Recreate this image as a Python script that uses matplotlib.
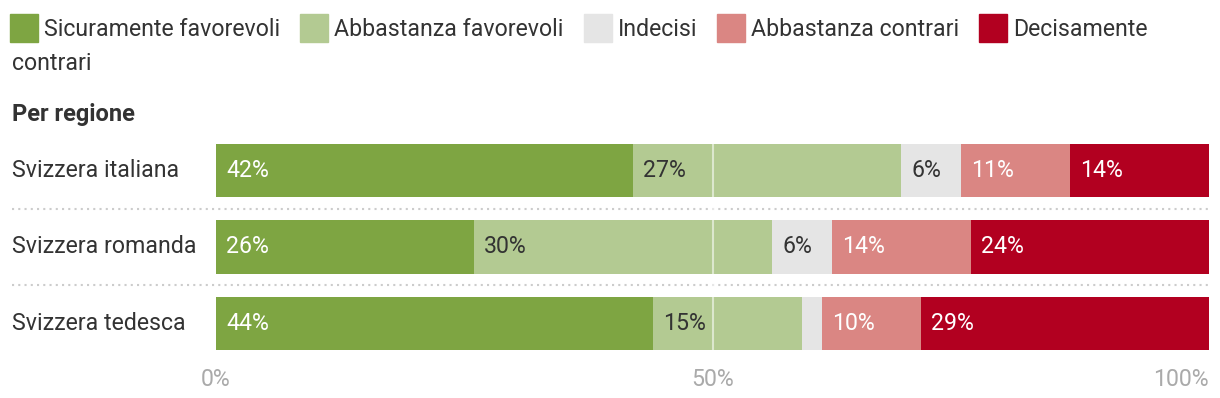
import matplotlib
matplotlib.use("Agg")
import matplotlib.pyplot as plt
from matplotlib.transforms import blended_transform_factory
from matplotlib.patches import Rectangle
import numpy as np

plt.rcParams['font.family'] = ['Roboto', 'DejaVu Sans']

regions = ["Svizzera italiana", "Svizzera romanda", "Svizzera tedesca"]
series_names = ["Sicuramente favorevoli", "Abbastanza favorevoli", "Indecisi",
                "Abbastanza contrari", "Decisamente contrari"]
sicuramente_fav = [42, 26, 44]
abbastanza_fav = [27, 30, 15]
indecisi = [6, 6, 2]
abbastanza_con = [11, 14, 10]
decisamente_con = [14, 24, 29]
tick_vals = [0, 50, 100]
tick_labels = ["0%", "50%", "100%"]

colors = ["#7ea542", "#b3ca92", "#e5e5e5", "#da8683", "#b20020"]
label_colors = ["white", "#333333", "#333333", "white", "white"]

W, H = 1220, 398
fig = plt.figure(figsize=(W / 100, H / 100), dpi=100)

def px2fig(x, y):
    return x / W, 1 - y / H

FS = 16.7
# axes geometry
ax_left, ax_right = 216, 1209
ax_top, ax_bot = 132.4, 361.4
ax = fig.add_axes([ax_left / W, 1 - ax_bot / H, (ax_right - ax_left) / W, (ax_bot - ax_top) / H])
ax.set_xlim(0, 100)
ax.set_ylim(2.5, -0.5)
for s in ax.spines.values():
    s.set_visible(False)

data = [sicuramente_fav, abbastanza_fav, indecisi, abbastanza_con, decisamente_con]
y = np.arange(len(regions))
left = np.zeros(len(regions))
for i, vals in enumerate(data):
    vals = np.array(vals, dtype=float)
    ax.barh(y, vals, left=left, height=0.70, color=colors[i], zorder=2)
    for j, v in enumerate(vals):
        if v >= 3:
            ax.annotate(f"{v:.0f}%", xy=(left[j], y[j]), xytext=(10, 0),
                        textcoords="offset pixels", ha="left", va="center",
                        fontsize=FS, color=label_colors[i], zorder=4)
    left += vals

ax.axvline(50, color="white", alpha=0.55, lw=1.5, zorder=3)

# ticks
ax.set_yticks([])
ax.set_xticks(tick_vals)
ax.set_xticklabels(tick_labels, fontsize=FS, color="#aaaaaa")
ax.tick_params(axis="x", length=0, pad=5)
tl = ax.get_xticklabels()
tl[-1].set_ha("right")

# category labels & separators
tr = blended_transform_factory(fig.transFigure, ax.transData)
for j, r in enumerate(regions):
    ax.text(12 / W, y[j], r, transform=tr, ha="left", va="center",
            fontsize=FS, color="#333333")
for sep in [0.5, 1.5]:
    ax.plot([12 / W, 1210 / W], [sep, sep], transform=tr, color="#cccccc",
            lw=1.5, ls=(0, (1, 2)), clip_on=False, zorder=1)

# subtitle
fig.text(12 / W, 1 - 115 / H, "Per regione", fontsize=FS + 0.3, fontweight="bold",
         color="#333333", ha="left", va="center")

# legend
fig.canvas.draw()
renderer = fig.canvas.get_renderer()
x = 10
ycen = 28
sq = 28
for i, name in enumerate(series_names):
    fig.patches.append(Rectangle(px2fig(x, ycen + sq / 2), sq / W, sq / H,
                                 transform=fig.transFigure, color=colors[i], figure=fig))
    if i == len(series_names) - 1:
        first, rest = name.split(" ", 1)
        t = fig.text(*px2fig(x + sq + 6, ycen + 1), first, fontsize=FS, color="#333333",
                     ha="left", va="center")
        fig.text(*px2fig(12, 63), rest, fontsize=FS, color="#333333",
                 ha="left", va="center")
    else:
        t = fig.text(*px2fig(x + sq + 6, ycen + 1), name, fontsize=FS, color="#333333",
                     ha="left", va="center")
    bb = t.get_window_extent(renderer)
    x = bb.x1 + 20

fig.savefig("out.png", dpi=100)
